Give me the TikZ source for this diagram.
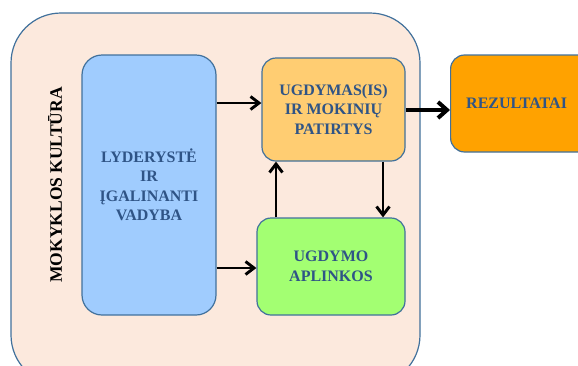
\documentclass[tikz,border=0pt]{standalone}
\usepackage{fontspec}
\setmainfont{Liberation Serif}
\usetikzlibrary{arrows.meta}
\definecolor{edgeblue}{HTML}{41719C}
\definecolor{txtblue}{HTML}{2F5486}
\definecolor{peach}{HTML}{FCE9DD}
\definecolor{boxblue}{HTML}{A0CCFE}
\definecolor{boxorange}{HTML}{FFCD72}
\definecolor{boxgreen}{HTML}{A3FF72}
\definecolor{boxres}{HTML}{FFA200}
\tikzset{
  box/.style={draw=edgeblue, line width=1.2pt, rounded corners=14pt, align=center,
    font=\fontsize{16}{19.5}\selectfont\bfseries, text=txtblue, inner sep=0pt},
  conn/.style={line width=2.9pt, -{Straight Barb[length=8.5pt,width=13pt,line width=2.9pt]}},
}
\begin{document}
\begin{tikzpicture}[x=1pt,y=-1pt]
\useasboundingbox (0,0) rectangle (578,365);
\clip (0,0) rectangle (578,365);
\fill[white] (0,0) rectangle (578,365);
% outer
\draw[draw=edgeblue, line width=1.2pt, fill=peach, rounded corners=50pt] (11,13) rectangle (420,385);
\node[rotate=90, font=\fontsize{17.5}{20}\selectfont\bfseries] (cult) at (55,185) {MOKYKLOS KULTŪRA};
\node[box, fill=boxblue, minimum width=134pt, minimum height=260pt, rounded corners=20pt] (lead) at (149,185) {LYDERYSTĖ\\IR\\ĮGALINANTI\\VADYBA};
\node[box, fill=boxorange, minimum width=143pt, minimum height=103pt] (edu) at (333.5,109.5) {UGDYMAS(IS)\\IR MOKINIŲ\\PATIRTYS};
\node[box, fill=boxgreen, minimum width=148pt, minimum height=97pt] (env) at (331,266.5) {UGDYMO\\APLINKOS};
\node[box, fill=boxres, minimum width=150pt, minimum height=97pt, anchor=west] (res) at (450,103.5) {\hspace*{-18pt}REZULTATAI};
% connectors
\draw[conn] (lead.east |- 0,103) -- (edu.west |- 0,103);
\draw[conn] (lead.east |- 0,268) -- (env.west |- 0,268);
\draw[conn] (env.north -| 276,0) -- (edu.south -| 276,0);
\draw[conn] (edu.south -| 383,0) -- (env.north -| 383,0);
\draw[line width=4pt, -{Straight Barb[length=9pt,width=16pt,line width=4pt]}] (edu.east |- 0,110) -- (res.west |- 0,110);
\end{tikzpicture}
\end{document}
